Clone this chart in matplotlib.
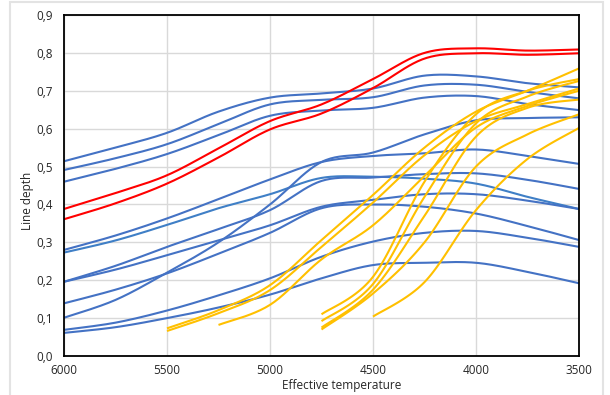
import numpy as np
import matplotlib
matplotlib.use('Agg')
import matplotlib.pyplot as plt
from matplotlib.ticker import FuncFormatter
from matplotlib.patches import Rectangle

plt.rcParams['font.family'] = ['Open Sans', 'DejaVu Sans']

# temperature grid (K) of the model points
temps = [6000, 5750, 5500, 5250, 5000, 4750, 4500, 4250, 4000, 3750, 3500]

# blue series (full range)
blue_1 = [0.514, 0.550, 0.589, 0.645, 0.682, 0.693, 0.706, 0.740, 0.738, 0.720, 0.709]
blue_2 = [0.491, 0.522, 0.559, 0.612, 0.664, 0.676, 0.683, 0.714, 0.716, 0.697, 0.680]
blue_3 = [0.460, 0.494, 0.533, 0.583, 0.634, 0.648, 0.655, 0.682, 0.686, 0.665, 0.649]
blue_4 = [0.280, 0.318, 0.363, 0.414, 0.466, 0.512, 0.528, 0.535, 0.545, 0.528, 0.507]
blue_5 = [0.273, 0.305, 0.346, 0.390, 0.427, 0.470, 0.473, 0.468, 0.455, 0.420, 0.388]
blue_6 = [0.196, 0.238, 0.288, 0.335, 0.385, 0.462, 0.471, 0.480, 0.482, 0.465, 0.441]
blue_7 = [0.196, 0.228, 0.266, 0.305, 0.345, 0.394, 0.412, 0.427, 0.427, 0.410, 0.388]
blue_8 = [0.139, 0.175, 0.218, 0.270, 0.325, 0.390, 0.400, 0.394, 0.376, 0.343, 0.306]
blue_9 = [0.101, 0.148, 0.220, 0.300, 0.400, 0.512, 0.537, 0.585, 0.622, 0.628, 0.630]
blue_10 = [0.069, 0.088, 0.120, 0.160, 0.205, 0.262, 0.302, 0.325, 0.330, 0.312, 0.288]
blue_11 = [0.061, 0.076, 0.100, 0.128, 0.162, 0.205, 0.240, 0.246, 0.246, 0.222, 0.192]

# red series
red_1 = [0.388, 0.430, 0.477, 0.548, 0.620, 0.664, 0.731, 0.800, 0.812, 0.806, 0.809]
red_2 = [0.361, 0.403, 0.455, 0.524, 0.598, 0.640, 0.707, 0.785, 0.799, 0.795, 0.799]

# yellow series (start at lower temperatures)
yellow_1 = [0.073, 0.121, 0.187, 0.306, 0.425, 0.550, 0.645, 0.700, 0.759]   # from 5500
yellow_2 = [0.066, 0.113, 0.174, 0.288, 0.405, 0.530, 0.620, 0.665, 0.706]   # from 5500
yellow_3 = [0.082, 0.135, 0.255, 0.345, 0.475, 0.603, 0.660, 0.700]          # from 5250
yellow_4 = [0.110, 0.209, 0.460, 0.638, 0.700, 0.731]                        # from 4750
yellow_5 = [0.092, 0.190, 0.420, 0.614, 0.685, 0.726]                        # from 4750
yellow_6 = [0.075, 0.175, 0.370, 0.579, 0.655, 0.677]                        # from 4750
yellow_7 = [0.070, 0.165, 0.300, 0.500, 0.585, 0.638]                        # from 4750
yellow_8 = [0.104, 0.195, 0.385, 0.520, 0.602]                               # from 4500

y_ticks = [0.0, 0.1, 0.2, 0.3, 0.4, 0.5, 0.6, 0.7, 0.8, 0.9]
x_ticks = [6000, 5500, 5000, 4500, 4000, 3500]


def smooth(xs, ys, n=24):
    # excel-like smoothed line (catmull-rom as cubic bezier)
    pts = np.column_stack([xs, ys]).astype(float)
    ext = np.vstack([pts[0], pts, pts[-1]])
    t = np.linspace(0, 1, n)[:, None]
    out = []
    for i in range(len(pts) - 1):
        p0, p1, p2, p3 = ext[i], ext[i + 1], ext[i + 2], ext[i + 3]
        c1 = p1 + (p2 - p0) / 6
        c2 = p2 - (p3 - p1) / 6
        seg = (1 - t)**3 * p1 + 3 * (1 - t)**2 * t * c1 + 3 * (1 - t) * t**2 * c2 + t**3 * p2
        out.append(seg if i == 0 else seg[1:])
    out = np.vstack(out)
    return out[:, 0], out[:, 1]


fig = plt.figure(figsize=(6.1, 3.95), dpi=100)
fig.patches.append(Rectangle((10 / 610, -0.05), 593 / 610, 1.05 - 2 / 395, transform=fig.transFigure,
                             fill=False, edgecolor='#E3E3E3', lw=1.5))
ax = fig.add_axes([64 / 610, 39 / 395, 515 / 610, 341 / 395])

BLUE = '#4472C4'
TEAL = '#3F7FC6'
RED = '#FF0000'
YEL = '#FFC000'
lw = 1.5

blues = [blue_1, blue_2, blue_3, blue_4, blue_5, blue_6, blue_7, blue_8, blue_9, blue_10, blue_11]
for i, b in enumerate(blues):
    xs, ys = smooth(temps, b)
    ax.plot(xs, ys, color=TEAL if i == 4 else BLUE, lw=lw, solid_capstyle='butt')

for r in [red_1, red_2]:
    xs, ys = smooth(temps, r)
    ax.plot(xs, ys, color=RED, lw=lw, solid_capstyle='butt')

yellows = [yellow_1, yellow_2, yellow_3, yellow_4, yellow_5, yellow_6, yellow_7, yellow_8]
for yv in yellows:
    xs, ys = smooth(temps[-len(yv):], yv)
    ax.plot(xs, ys, color=YEL, lw=lw, solid_capstyle='butt')

ax.set_xlim(6000, 3500)
ax.set_ylim(0, 0.9)
ax.set_xticks(x_ticks)
ax.set_yticks(y_ticks)
ax.yaxis.set_major_formatter(FuncFormatter(lambda v, p: f'{v:.1f}'.replace('.', ',')))
ax.tick_params(length=0, labelsize=8.5, colors='#262626')
ax.tick_params(axis='y', pad=8)
ax.tick_params(axis='x', pad=6)
ax.grid(True, color='#D9D9D9', lw=1)
ax.set_axisbelow(True)
for s in ax.spines.values():
    s.set_color('black')
    s.set_linewidth(1.3)

fig.text(342 / 610, 1 - 386 / 395, 'Effective temperature', ha='center', va='center',
         fontsize=8.5, color='#262626')
fig.text(28 / 610, 1 - 201 / 395, 'Line depth', ha='center', va='center', rotation=90,
         fontsize=8.5, color='#262626')

fig.savefig('out.png', dpi=100)
